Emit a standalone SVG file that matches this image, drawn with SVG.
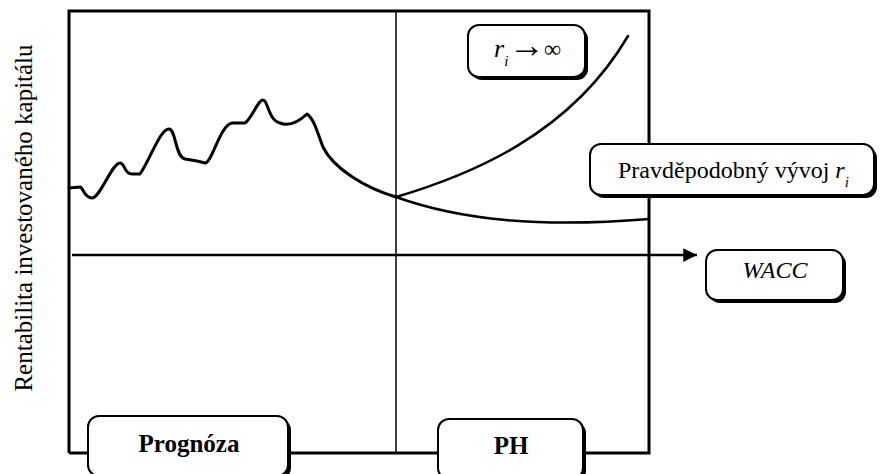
<svg xmlns="http://www.w3.org/2000/svg" width="880" height="474" viewBox="0 0 880 474">
<style>
.t{font-family:'Liberation Serif','Times New Roman','DejaVu Serif',serif;font-size:24px;fill:#000}
.frame{fill:none;stroke:#000;stroke-width:3}
.thin{fill:none;stroke:#000;stroke-width:1.5}
.curve{fill:none;stroke:#000;stroke-width:3;stroke-linejoin:round;stroke-linecap:round}
.shadow{fill:#000}
.box{fill:#fff;stroke:#000;stroke-width:2}
</style>
<defs>
<marker id="arr" viewBox="0 0 10 10" refX="10" refY="5" markerWidth="5.5" markerHeight="5.5" markerUnits="strokeWidth" orient="auto">
<path d="M0,0 L10,5 L0,10 z" fill="#000"/>
</marker>
</defs>
<rect width="880" height="474" fill="#fff"/>
<g id="axis-label">
<text class="t" text-anchor="middle" transform="translate(32,218) rotate(-90)" style="font-size:25px">Rentabilita investovaného kapitálu</text>
</g>
<g id="frame">
<polyline class="frame" points="69,453 69,11 649,11 649,453 69,453"/>
<line class="thin" x1="396" y1="11" x2="396" y2="453"/>
</g>
<g id="connectors">
<line x1="72" y1="255" x2="697" y2="255" stroke="#000" stroke-width="2.5" marker-end="url(#arr)"/>
<path class="curve" d="M69,188 L80,187 C83,187 84,198 92,198 C100,198 112,163 120,163 C125,163 124,174 132,174 L140,174 C150,160 160,129 169,129 C176,129 175,157 185,159 L197,161 L205,163 C212,163 220,125 232,123 L245,123 C252,118 258,100 263,100 C268,100 268,120 280,123 Q292,128 307,114 C315,120 318,135 323,147 C333,168 365,188 396,197"/>
<path class="curve" style="stroke-width:2.5" d="M396,197 C470,175 570,135 628,36"/>
<path class="curve" style="stroke-width:2.5" d="M396,197 C460,220 540,228 649,219"/>
</g>
<g id="node-ri-inf">
<rect class="shadow" x="471" y="28" width="117" height="52" rx="11"/>
<rect class="box" x="468" y="25" width="117" height="52" rx="11"/>
<text class="t" x="494" y="57"><tspan font-style="italic" style="font-size:26px">r</tspan><tspan font-style="italic" style="font-size:15px" dy="9">i</tspan><tspan dy="-9" x="509" style="font-size:36px">→</tspan><tspan x="544">∞</tspan></text>
</g>
<g id="node-pravdepodobny">
<rect class="shadow" x="593" y="147" width="284" height="51" rx="11"/>
<rect class="box" x="590" y="144" width="284" height="51" rx="11"/>
<text class="t" x="618" y="178">Pravděpodobný vývoj <tspan font-style="italic">r</tspan><tspan font-style="italic" style="font-size:15px" dy="9">i</tspan></text>
</g>
<g id="node-wacc">
<rect class="shadow" x="709" y="253" width="137" height="50" rx="11"/>
<rect class="box" x="706" y="250" width="137" height="50" rx="11"/>
<text class="t" x="775" y="278" text-anchor="middle" font-style="italic">WACC</text>
</g>
<g id="node-prognoza">
<rect class="shadow" x="91" y="419" width="200" height="60" rx="11"/>
<rect class="box" x="88" y="416" width="200" height="60" rx="11"/>
<text class="t" x="189" y="452" text-anchor="middle" font-weight="bold" style="font-size:25px">Prognóza</text>
</g>
<g id="node-ph">
<rect class="shadow" x="441" y="422" width="145" height="60" rx="11"/>
<rect class="box" x="438" y="419" width="145" height="60" rx="11"/>
<text class="t" x="511" y="454" text-anchor="middle" font-weight="bold" style="font-size:25px">PH</text>
</g>
</svg>
